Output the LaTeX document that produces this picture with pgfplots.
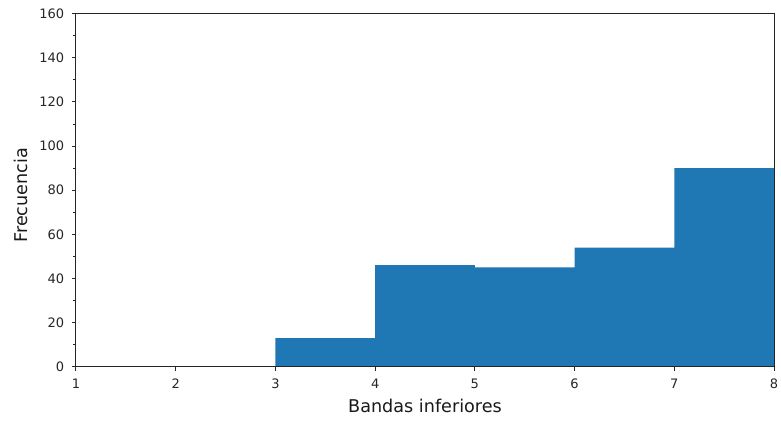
\documentclass[border=0pt]{standalone}
\usepackage{pgfplots}
\pgfplotsset{compat=1.18}
\usepackage{fontspec}
\setmainfont{DejaVu Sans}
\definecolor{mplblue}{HTML}{1F77B4}
\begin{document}
\begin{tikzpicture}
\begin{axis}[
  at={(0pt,0pt)}, anchor=south west,
  scale only axis,
  width=698pt, height=353pt,
  xmin=1, xmax=8, ymin=0, ymax=160,
  xtick={1,...,8},
  ytick={0,20,...,160},
  minor ytick={10,30,...,150},
  tick align=outside,
  major tick length=4.4pt,
  minor tick length=2.5pt,
  tick style={black!85, line width=1pt},
  axis line style={black!85, line width=1pt},
  xtick pos=bottom, ytick pos=left,
  /pgf/number format/assume math mode=true,
  tick label style={font=\fontsize{13}{15}\selectfont, text=black!85},
  xticklabel style={yshift=-4pt},
  yticklabel style={xshift=-4pt},
  label style={font=\fontsize{17.6}{20}\selectfont, text=black!90},
  xlabel={Bandas inferiores},
  ylabel={Frecuencia},
  xlabel style={at={(axis description cs:0.5,0)}, anchor=base, yshift=-46pt},
  ylabel style={at={(axis description cs:0,0.5)}, anchor=base, yshift=48pt, xshift=-5pt},
  axis on top,
]
\addplot[ybar interval, fill=mplblue, draw=none] coordinates {
  (1,0) (2,0) (3,13) (4,46) (5,45) (6,54) (7,90) (8,90)
};
\end{axis}
\pgfresetboundingbox
\path (-76pt,-54pt) rectangle (705pt,366.7pt);
\end{tikzpicture}
\end{document}
